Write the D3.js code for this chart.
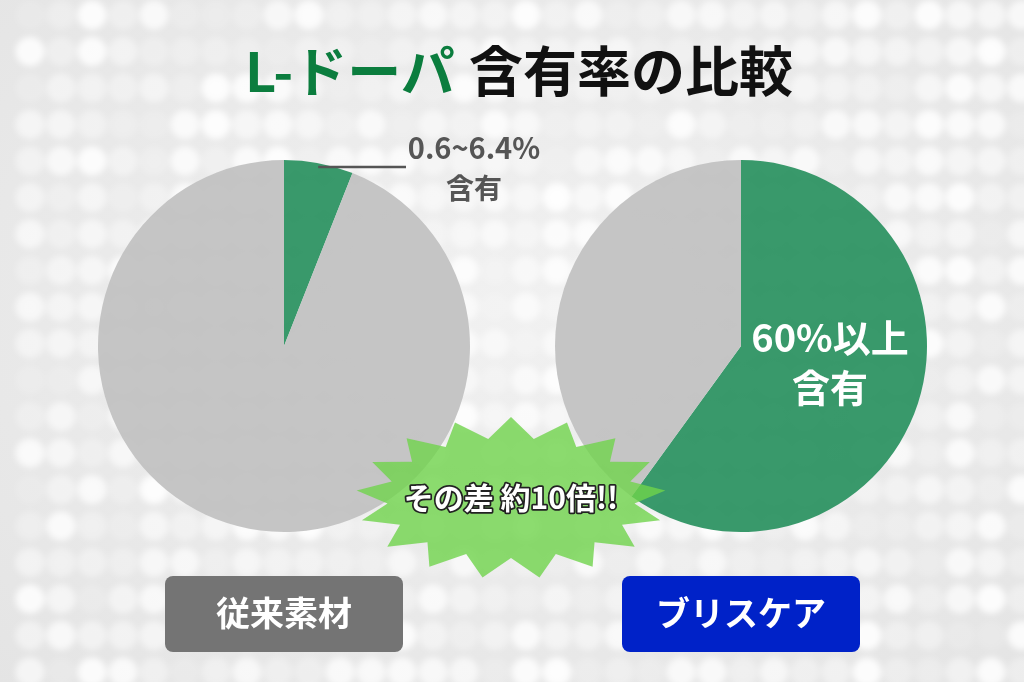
<!DOCTYPE html>
<html>
<head>
<meta charset="utf-8">
<script src="https://cdn.jsdelivr.net/npm/d3@7"></script>
<style>
  html, body { margin: 0; padding: 0; background: #e9e9e9; }
  svg { display: block; font-family: "Noto Sans CJK JP", "Noto Sans", sans-serif; }
</style>
</head>
<body>
<div id="chart"></div>
<script>
// data
const groups = ["従来素材", "ブリスケア"];
const ldopaShare = [6, 60];           // % of L-dopa
const sliceNames = ["L-ドーパ", "その他"];
const sliceLabels = [["0.6~6.4%", "含有"], ["60%以上", "含有"]];
const titleParts = ["L-ドーパ", " 含有率の比較"];
const burstText = "その差 約10倍!!";

const W = 1024, H = 682;

const svg = d3.select("#chart").append("svg")
    .attr("width", W)
    .attr("height", H);

const defs = svg.append("defs");
defs.append("filter").attr("id", "blur")
    .attr("x", "-5%").attr("y", "-5%").attr("width", "110%").attr("height", "110%")
    .append("feGaussianBlur").attr("stdDeviation", 3);

const bg = defs.append("radialGradient").attr("id", "bg")
    .attr("cx", "50%").attr("cy", "45%").attr("r", "75%");
bg.append("stop").attr("offset", "0%").attr("stop-color", "#f1f1f1");
bg.append("stop").attr("offset", "100%").attr("stop-color", "#e4e4e4");

// background with bokeh dots
svg.append("rect").attr("width", W).attr("height", H).attr("fill", "url(#bg)");

const dots = [];
for (let r = 0; r < 20; r++) {
    for (let c = 0; c < 34; c++) {
        const h = Math.abs(Math.sin(r * 12.9898 + c * 78.233) * 43758.5453) % 1;
        dots.push({ x: 30 + c * 31, y: 15 + r * 36.5, o: 0.15 + h * 0.75 });
    }
}
svg.append("g").attr("filter", "url(#blur)")
    .selectAll("circle")
    .data(dots)
    .join("circle")
    .attr("cx", d => d.x)
    .attr("cy", d => d.y)
    .attr("r", 14.5)
    .attr("fill", "#ffffff")
    .attr("opacity", d => d.o);

// title
const title = svg.append("text")
    .attr("x", W / 2 + 7)
    .attr("y", 92)
    .attr("text-anchor", "middle")
    .attr("font-size", 54)
    .attr("font-weight", 700)
    .attr("word-spacing", 2);
title.append("tspan").attr("fill", "#0b7d3e").text(titleParts[0]);
title.append("tspan").attr("fill", "#111111").text(titleParts[1]);

// pies
const x = d3.scalePoint().domain(groups).range([284, 741]);
const cy = 346;
const radius = 186;

const pie = d3.pie().sort(null).value(d => d.value);
const arc = d3.arc().innerRadius(0).outerRadius(radius);
const color = d3.scaleOrdinal().domain(sliceNames).range(["#2e9363", "#c2c2c2"]);

groups.forEach((g, i) => {
    const slices = pie([
        { name: sliceNames[0], value: ldopaShare[i] },
        { name: sliceNames[1], value: 100 - ldopaShare[i] }
    ]);
    const gp = svg.append("g").attr("transform", `translate(${x(g)},${cy})`);
    gp.selectAll("path")
        .data(slices)
        .join("path")
        .attr("d", arc)
        .attr("fill", d => color(d.data.name))
        .attr("fill-opacity", 0.95);

    const s = slices[0];
    if (i === 0) {
        // small slice: leader line out to the right
        const p = d3.arc().innerRadius(radius * 0.98).outerRadius(radius * 0.98).centroid(s);
        gp.append("line")
            .attr("x1", p[0]).attr("y1", p[1])
            .attr("x2", 122).attr("y2", p[1])
            .attr("stroke", "#555555")
            .attr("stroke-width", 2.5);
        const t = gp.append("text")
            .attr("text-anchor", "middle")
            .attr("font-size", 29)
            .attr("font-weight", 700)
            .attr("fill", "#555555");
        t.append("tspan").attr("x", 190).attr("y", -187).text(sliceLabels[i][0]);
        t.append("tspan").attr("x", 190).attr("y", -147).attr("font-size", 28).text(sliceLabels[i][1]);
    } else {
        const t = gp.append("text")
            .attr("text-anchor", "middle")
            .attr("font-size", 38)
            .attr("font-weight", 700)
            .attr("fill", "#ffffff");
        t.append("tspan").attr("x", 89).attr("y", 6).text(sliceLabels[i][0]);
        t.append("tspan").attr("x", 89).attr("y", 56).text(sliceLabels[i][1]);
    }

    // name tag below the pie
    svg.append("rect")
        .attr("x", x(g) - 119)
        .attr("y", 576)
        .attr("width", 238)
        .attr("height", 76)
        .attr("rx", 8)
        .attr("fill", i === 0 ? "#747474" : "#0022c8");
    svg.append("text")
        .attr("x", x(g))
        .attr("y", 626)
        .attr("text-anchor", "middle")
        .attr("font-size", 34)
        .attr("font-weight", 700)
        .attr("fill", "#ffffff")
        .text(g);
});

// starburst
const bx = 511, by = 498, spikes = 17;
const burstPts = [];
for (let k = 0; k < spikes * 2; k++) {
    const a = -Math.PI / 2 + k * Math.PI / spikes;
    const outer = k % 2 === 0;
    const rx = outer ? 155 : 124, ry = outer ? 81 : 60;
    burstPts.push([bx + rx * Math.cos(a), by + ry * Math.sin(a)]);
}
svg.append("path")
    .attr("d", d3.line()(burstPts) + "Z")
    .attr("fill", "#6fd34b")
    .attr("fill-opacity", 0.8);

svg.append("text")
    .attr("x", bx)
    .attr("y", by + 11)
    .attr("text-anchor", "middle")
    .attr("font-size", 30)
    .attr("font-weight", 700)
    .attr("fill", "#ffffff")
    .attr("stroke", "#222222")
    .attr("stroke-width", 3.5)
    .attr("paint-order", "stroke")
    .attr("stroke-linejoin", "round")
    .text(burstText);
</script>
</body>
</html>
